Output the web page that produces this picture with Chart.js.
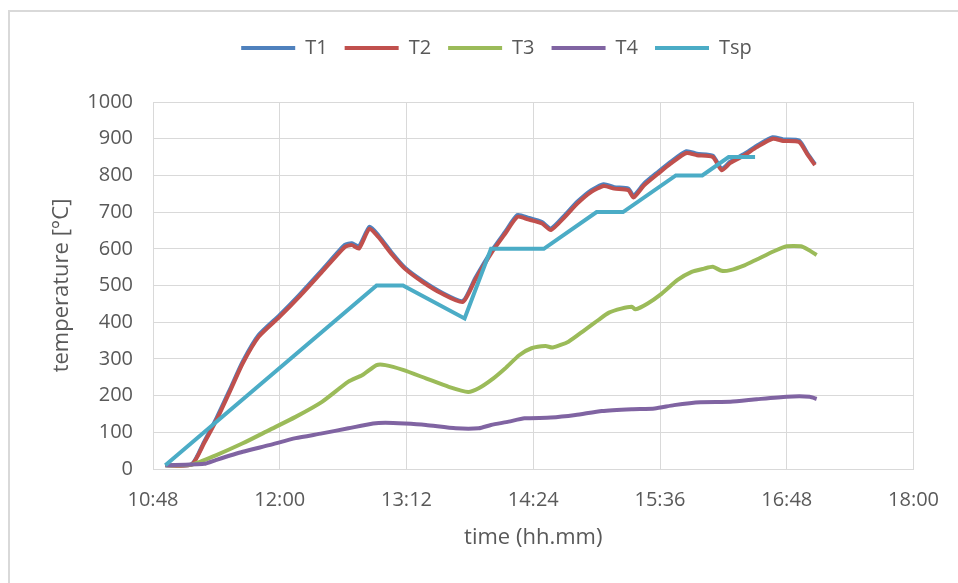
<!DOCTYPE html>
<html>
<head>
<meta charset="utf-8">
<script src="https://cdn.jsdelivr.net/npm/chart.js@4"></script>
<style>
  html, body { margin: 0; padding: 0; background: #fff; }
  #wrap { width: 958px; height: 583px; }
</style>
</head>
<body>
<div id="wrap"><canvas id="temps"></canvas></div>
<script>
// time of day (hh:mm) and temperature in °C
const t1Time = ['10:55','11:10','11:17','11:24','11:32','11:39','11:48','12:00','12:11','12:24','12:37','12:41','12:45','12:51','12:56','13:04','13:11','13:21','13:32','13:44','13:51','14:00','14:08','14:15','14:21','14:29','14:34','14:42','14:49','14:57','15:04','15:10','15:18','15:21','15:27','15:35','15:42','15:51','15:57','16:06','16:11','16:16','16:24','16:31','16:40','16:46','16:55','17:00','17:04']
const t1Temp = [10, 13, 74, 138, 220, 293, 365, 420, 474, 542, 611, 615, 607, 660, 637, 587, 549, 513, 481, 458, 520, 592, 646, 692, 685, 673, 655, 692, 728, 760, 776, 768, 764, 745, 778, 810, 837, 866, 859, 854, 818, 838, 859, 881, 904, 898, 895, 858, 831]

const t2Time = t1Time
const t2Temp = [10, 12, 70, 133, 215, 288, 360, 415, 469, 537, 605, 610, 601, 655, 632, 583, 546, 510, 478, 455, 515, 587, 641, 687, 680, 669, 651, 687, 723, 755, 771, 764, 760, 740, 773, 805, 832, 861, 855, 850, 814, 834, 855, 877, 900, 894, 891, 855, 828]

const t3Time = ['10:55','11:10','11:24','11:39','11:54','12:09','12:24','12:39','12:47','12:55','13:00','13:10','13:23','13:36','13:47','13:53','14:00','14:08','14:16','14:23','14:31','14:35','14:44','14:53','15:01','15:07','15:14','15:20','15:22','15:29','15:37','15:46','15:54','16:01','16:06','16:11','16:16','16:24','16:31','16:41','16:48','16:56','17:00','17:05']
const t3Temp = [10, 12, 38, 70, 106, 142, 183, 238, 256, 283, 283, 270, 247, 224, 210, 220, 242, 274, 310, 329, 335, 331, 347, 378, 406, 426, 437, 442, 435, 451, 478, 515, 537, 546, 551, 540, 542, 555, 571, 594, 607, 607, 598, 583]

const t4Time = ['10:55','11:17','11:24','11:39','11:54','12:09','12:24','12:39','12:53','13:00','13:11','13:23','13:40','13:53','14:00','14:10','14:19','14:34','14:48','15:03','15:20','15:33','15:44','15:59','16:16','16:31','16:48','17:01','17:05']
const t4Temp = [10, 14, 25, 47, 65, 84, 97, 111, 124, 126, 124, 120, 111, 111, 120, 129, 138, 140, 147, 158, 163, 165, 174, 182, 183, 190, 197, 197, 191]

const tspTime = ['10:55','12:55','13:10','13:45','14:00','14:30','15:00','15:15','15:45','16:00','16:15','16:30']
const tspTemp = [10, 500, 500, 410, 600, 600, 700, 700, 800, 800, 850, 850]

const xTicks = ['10:48', '12:00', '13:12', '14:24', '15:36', '16:48', '18:00']

const toMin = s => { const [h, m] = s.split(':').map(Number); return h * 60 + m }
const fmt = v => Math.floor(v / 60) + ':' + String(v % 60).padStart(2, '0')
const pts = (times, temps) => times.map((t, i) => ({ x: toMin(t), y: temps[i] }))

const textColor = '#595959'
const gridColor = '#d9d9d9'
Chart.defaults.font.family = '"Open Sans", sans-serif'
Chart.defaults.font.size = 20
Chart.defaults.color = textColor

const series = (label, data, color, order, tension) => ({
  label, data, order, tension,
  borderColor: color,
  backgroundColor: color,
  borderWidth: 4,
  pointRadius: 0,
  pointStyle: 'line',
})

const frame = {
  id: 'frame',
  beforeDraw(chart) {
    const ctx = chart.ctx
    ctx.save()
    ctx.fillStyle = '#fff'
    ctx.fillRect(0, 0, chart.width, chart.height)
    ctx.strokeStyle = gridColor
    ctx.lineWidth = 2
    ctx.strokeRect(9, 11, chart.width + 20, chart.height + 20)
    ctx.restore()
  }
}

// extra room under the legend, and move it to the centre of the plot
const legendGap = {
  id: 'legendGap',
  beforeInit(chart) {
    const fit = chart.legend.fit
    chart.legend.fit = function () {
      fit.bind(chart.legend)()
      this.height += 34
    }
  },
  afterLayout(chart) {
    chart.legend.left = 38
    chart.legend.right = chart.width - 41 + 38
  }
}

new Chart(document.getElementById('temps'), {
  type: 'line',
  data: {
    datasets: [
      series('T1', pts(t1Time, t1Temp), '#4f81bd', 5, 0.2),
      series('T2', pts(t2Time, t2Temp), '#c0504d', 4, 0.2),
      series('T3', pts(t3Time, t3Temp), '#9bbb59', 3, 0.2),
      series('T4', pts(t4Time, t4Temp), '#8064a2', 2, 0.2),
      series('Tsp', pts(tspTime, tspTemp), '#4bacc6', 1, 0),
    ]
  },
  plugins: [frame, legendGap],
  options: {
    responsive: true,
    maintainAspectRatio: false,
    animation: false,
    layout: { padding: { top: 21, right: 41, left: 0, bottom: 0 } },
    plugins: {
      legend: {
        position: 'top',
        labels: {
          usePointStyle: true, pointStyleWidth: 54, padding: 17, color: textColor,
          sort: (a, b) => a.datasetIndex - b.datasetIndex
        }
      },
      tooltip: { enabled: false }
    },
    scales: {
      x: {
        type: 'linear',
        min: toMin(xTicks[0]),
        max: toMin(xTicks[xTicks.length - 1]),
        afterBuildTicks: s => { s.ticks = xTicks.map(t => ({ value: toMin(t) })) },
        afterFit: s => { s.height = 114 },
        ticks: { callback: v => fmt(v), padding: 19, maxRotation: 0, autoSkip: false },
        grid: { color: gridColor, drawTicks: false },
        border: { color: gridColor },
        title: { display: true, text: 'time (hh.mm)', font: { size: 22 }, padding: { top: 0, bottom: 32 } }
      },
      y: {
        min: 0,
        max: 1000,
        ticks: { stepSize: 100, padding: 20, callback: v => String(v) },
        afterFit: s => { s.width = 153 },
        grid: { color: gridColor, drawTicks: false },
        border: { color: gridColor },
        title: { display: true, text: 'temperature [°C]', font: { size: 22 }, padding: { top: 49, bottom: 0 } }
      }
    }
  }
})
</script>
</body>
</html>
